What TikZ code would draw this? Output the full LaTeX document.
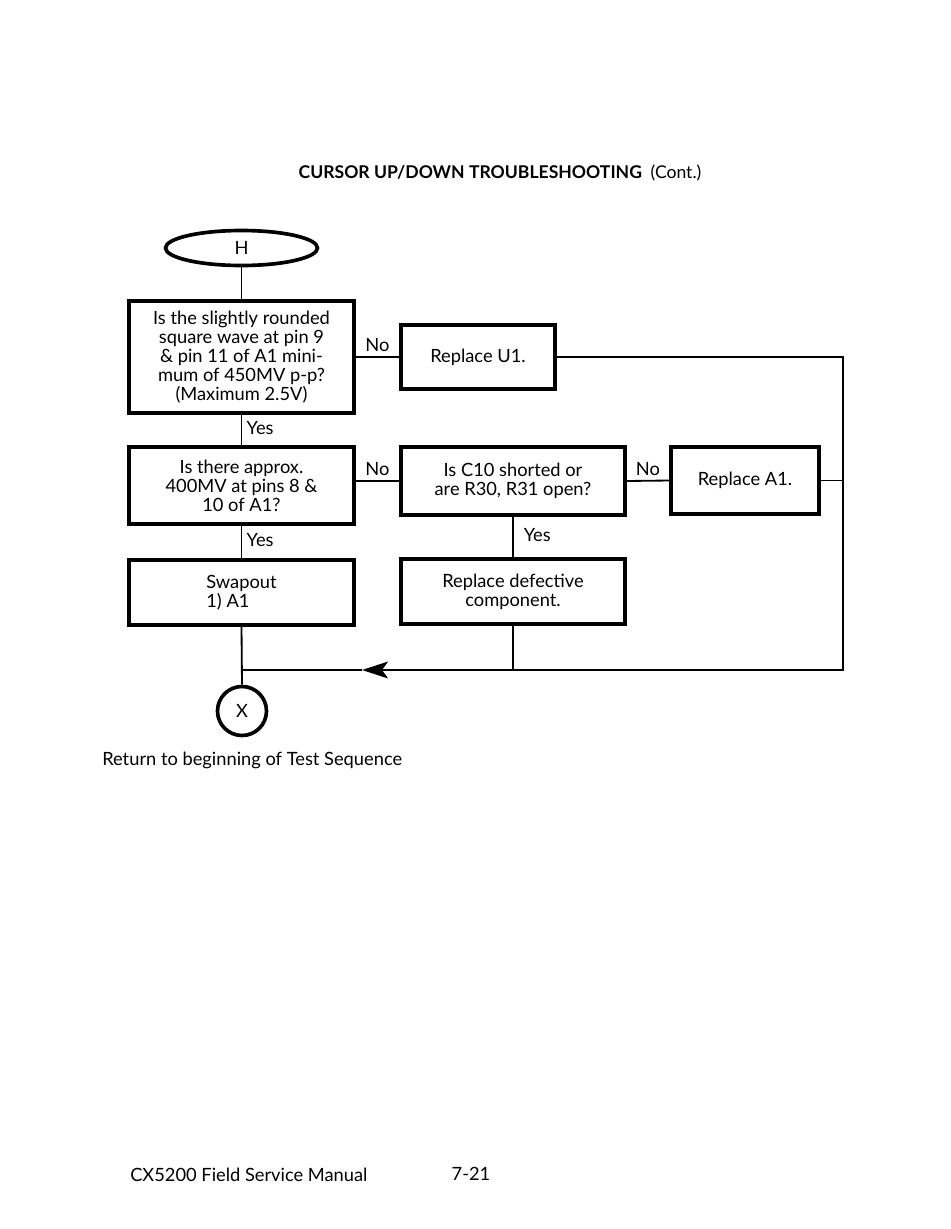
\documentclass[tikz,border=0pt]{standalone}
\usepackage{fontspec}
\setmainfont{Lato}
\usetikzlibrary{shapes.geometric,arrows.meta}

\begin{document}
\begin{tikzpicture}[x=0.025cm, y=-0.025cm,
  txt/.style={font=\fontsize{13}{13.6}\selectfont},
  box/.style={draw, line width=2.6pt, align=center, inner sep=2pt, txt},
  line/.style={line width=1.3pt},
  lbl/.style={txt, inner sep=3pt}]
  \def\px{0.025cm}
  \useasboundingbox (0,0) rectangle (950,1229);
  % heading
  \node[font=\fontsize{12.5}{15}\selectfont] (title) at (500,173) {\textbf{CURSOR UP/DOWN TROUBLESHOOTING}\enspace(Cont.)};
  % terminals
  \node[ellipse, draw, line width=2.6pt, minimum width=152*\px, minimum height=35*\px, txt] (h) at (241.5,248) {H};
  \node[circle, draw, line width=2.6pt, minimum size=49*\px, txt] (x) at (242,711) {X};
  % boxes
  \node[box, minimum width=225*\px, minimum height=112*\px] (pin9) at (241.5,357) {Is the slightly rounded\\square wave at pin 9\\\& pin 11 of A1 mini-\\mum of 450MV p-p?\\(Maximum 2.5V)};
  \node[box, minimum width=154*\px, minimum height=64*\px] (u1) at (478,357) {Replace U1.};
  \node[box, minimum width=225*\px, minimum height=77*\px] (pin8) at (241.5,485.5) {Is there approx.\\400MV at pins 8 \&\\10 of A1?};
  \node[box, minimum width=224*\px, minimum height=68*\px] (c10) at (513,481) {Is C10 shorted or\\are R30, R31 open?};
  \node[box, minimum width=148*\px, minimum height=67*\px] (a1) at (745,480.5) {Replace A1.};
  \node[box, align=left, minimum width=225*\px, minimum height=65*\px] (swap) at (241.5,592.5) {Swapout\\1) A1};
  \node[box, minimum width=224*\px, minimum height=65*\px] (defect) at (513,591.5) {Replace defective\\component.};
  \coordinate (br) at (843,670);
  \coordinate (tip) at (362,670);
  % connectors
  \draw[line] (h) -- (pin9);
  \draw[line] (pin9.east) -- node[lbl, above] {No} (u1.west);
  \draw[line] (pin9.south) -- node[lbl, right, pos=0.45] {Yes} (pin8.north);
  \draw[line] (c10.west -| pin8.east) -- node[lbl, above] {No} (c10.west);
  \draw[line] (c10.east) -- node[lbl, above] {No} (a1.west);
  \draw[line] (pin8.south) -- node[lbl, right, pos=0.45] {Yes} (swap.north);
  \draw[line] (c10.south) -- node[lbl, right, pos=0.45, xshift=4pt] {Yes} (defect.north);
  \draw[line] (a1.east) -- (a1.east -| br);
  \draw[line] (u1.east) -| (br) -- (defect.south |- br);
  \draw[line] (defect.south) -- (defect.south |- br);
  \draw[line, -{Stealth[length=6.5mm, width=4.2mm, inset=1.5mm]}] (defect.south |- br) -- (tip);
  \draw[line] (tip) -- (swap.south |- br);
  \draw[line] (swap.south) -- (x.north);
  % notes
  \node[txt, anchor=base west, inner sep=0pt] (back) at (102,765) {Return to beginning of Test Sequence};
  \node[txt, anchor=base west, inner sep=0pt] (manual) at (130,1181) {CX5200 Field Service Manual};
  \node[txt, anchor=base, inner sep=0pt] (page) at (471,1180) {7-21};
\end{tikzpicture}
\end{document}
